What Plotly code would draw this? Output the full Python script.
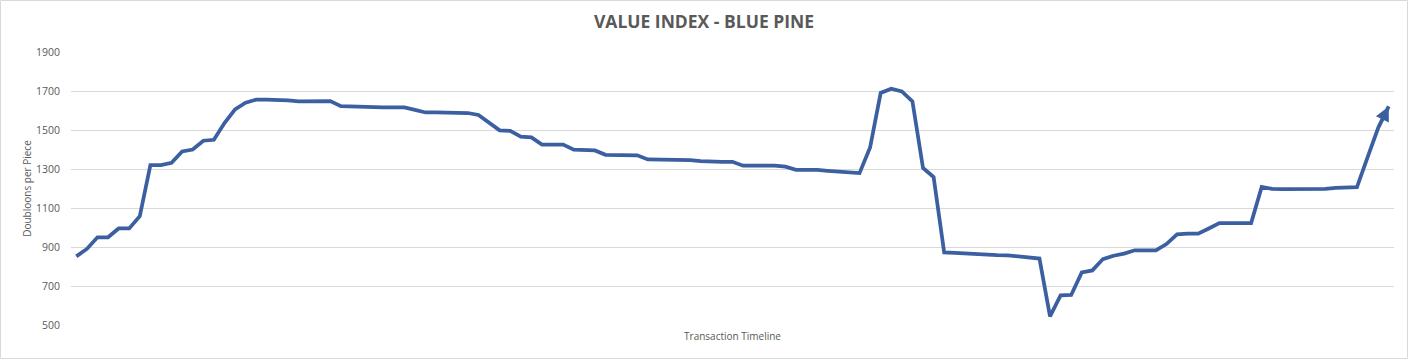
import plotly.graph_objects as go

title_text = "VALUE INDEX - BLUE PINE"
y_title = "Doubloons per Piece"
x_title = "Transaction Timeline"

values = [
    852, 890, 950, 950, 995, 995, 1058, 1320, 1320, 1332,
    1390, 1400, 1445, 1450, 1536, 1606, 1640, 1656, 1656, 1656,
    1652, 1647, 1648, 1648, 1648, 1622, 1620, 1616, 1616, 1616,
    1616, 1616, 1603, 1590, 1590, 1590, 1587, 1587, 1577, 1540,
    1498, 1495, 1466, 1462, 1425, 1425, 1425, 1399, 1397, 1395,
    1373, 1373, 1371, 1370, 1349, 1349, 1349, 1349, 1345, 1341,
    1337, 1337, 1337, 1317, 1317, 1317, 1317, 1312, 1296, 1296,
    1296, 1291, 1286, 1280, 1279, 1410, 1690, 1712, 1698, 1647,
    1305, 1259, 872, 870, 866, 864, 862, 858, 857, 852,
    847, 841, 544, 652, 654, 770, 780, 838, 855, 866,
    883, 883, 883, 915, 965, 968, 968, 995, 1023, 1023,
    1023, 1023, 1208, 1198, 1197, 1197, 1197, 1197, 1198, 1203,
    1205, 1207, 1360, 1510, 1621,
]
categories = list(range(len(values)))
y_ticks = [500, 700, 900, 1100, 1300, 1500, 1700, 1900]

line_color = "#3B5FA0"
grid_color = "#D9D9D9"
text_color = "#595959"
font_family = "Open Sans, Noto Sans, sans-serif"

fig = go.Figure()
fig.add_trace(go.Scatter(
    x=categories, y=values, mode="lines",
    line=dict(color=line_color, width=3.75, shape="linear"),
    hoverinfo="skip", showlegend=False,
))

fig.add_annotation(
    x=categories[-1], y=values[-1], ax=categories[-2], ay=values[-2],
    xref="x", yref="y", axref="x", ayref="y",
    showarrow=True, arrowhead=2, arrowsize=0.9, arrowwidth=3.2,
    arrowcolor=line_color, text="",
)

fig.update_layout(
    width=1408, height=359,
    margin=dict(l=71, r=14, t=52, b=34, autoexpand=False),
    paper_bgcolor="white", plot_bgcolor="white",
    font=dict(family=font_family, color=text_color, size=10),
    title=dict(text="<b>" + title_text + "</b>", x=0.5, xanchor="center",
               y=1 - 22 / 359, yanchor="middle",
               font=dict(size=17.5, color=text_color, family=font_family)),
    shapes=[dict(type="rect", xref="paper", yref="paper",
                 x0=-70.5 / 1323, x1=1 + 13.5 / 1323,
                 y0=-33.5 / 273, y1=1 + 51.5 / 273,
                 line=dict(color=grid_color, width=1), layer="below")],
)
fig.update_xaxes(
    range=[-0.5, len(values) - 0.5], showgrid=False, zeroline=False,
    showticklabels=False, ticks="", showline=False,
    title=dict(text=x_title, standoff=7, font=dict(size=10, color=text_color)),
)
fig.update_yaxes(
    range=[500, 1900], tickvals=y_ticks, showgrid=True, gridcolor=grid_color,
    gridwidth=1, zeroline=False, showline=False, ticks="",
    tickfont=dict(size=10.5, color=text_color), ticklabelstandoff=10,
    title=dict(text=y_title, standoff=2, font=dict(size=10, color=text_color)),
)

fig.write_html(
    "out.html",
    config={"displayModeBar": False},
    post_script="document.body.style.margin='0';document.body.style.overflow='hidden';",
)
